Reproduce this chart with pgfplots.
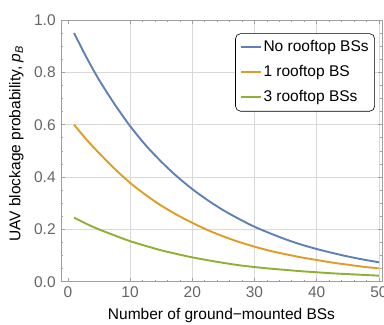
\documentclass[border=0pt]{standalone}
\usepackage{fontspec}
\setmainfont{Liberation Sans}
\usepackage{pgfplots}
\pgfplotsset{compat=1.18}
\definecolor{mblue}{rgb}{0.368417,0.506779,0.709798}
\definecolor{morange}{rgb}{0.880722,0.611041,0.142051}
\definecolor{mgreen}{rgb}{0.560181,0.691569,0.194885}
\begin{document}
\fontsize{15.5bp}{18bp}\selectfont
\begin{tikzpicture}
\begin{axis}[
  name=ax,
  scale only axis, width=321bp, height=261.7bp,
  xmin=-1.1, xmax=50.5, ymin=0, ymax=1,
  xtick={10,20,30,40,50}, extra x ticks={0},
  extra x tick style={grid=none},
  ytick={0,0.2,0.4,0.6,0.8,1.0},
  minor x tick num=4, minor y tick num=3,
  tick align=inside,
  major tick length=4bp, minor tick length=2.2bp,
  grid=major,
  major grid style={gray!30, line width=0.6bp},
  axis line style={gray!75, line width=0.7bp},
  every tick/.style={gray!75, line width=0.6bp},
  ticklabel style={gray!80!black, font=\fontsize{15.5bp}{18bp}\selectfont},
  /pgf/number format/assume math mode=true,
  yticklabel style={/pgf/number format/.cd, fixed, fixed zerofill, precision=1},
  xlabel={Number of ground\char"2212 mounted BSs},
  ylabel={UAV blockage probability, \textit{p}\textsubscript{\textit{B}}},
  ylabel style={xshift=7bp},
  label style={font=\fontsize{15.5bp}{18bp}\selectfont},
  legend style={at={(rel axis cs:0.978,0.949)}, anchor=north east,
    draw=black, rounded corners=5bp, fill=white, line width=0.6bp,
    font=\fontsize{15.5bp}{18bp}\selectfont,
    inner xsep=4bp, inner ysep=5bp, row sep=7.5bp},
  legend cell align=left,
  legend image code/.code={\draw[#1, line width=2bp] (0bp,0bp) -- (20bp,0bp);},
]
\addplot[mblue, line width=1.9bp, smooth] coordinates {
(1,0.950) (3,0.857) (5,0.772) (7.5,0.679) (10,0.595) (12.5,0.522) (15,0.459)
(17.5,0.403) (20,0.354) (22.5,0.311) (25,0.273) (27.5,0.240) (30,0.210)
(32.5,0.185) (35,0.162) (37.5,0.142) (40,0.125) (42.5,0.110) (45,0.0964)
(47.5,0.0846) (50,0.0743)};
\addlegendentry{No rooftop BSs}
\addplot[morange, line width=1.9bp, smooth] coordinates {
(1,0.600) (3,0.543) (5,0.492) (7.5,0.432) (10,0.378) (12.5,0.332) (15,0.291)
(17.5,0.256) (20,0.225) (22.5,0.197) (25,0.173) (27.5,0.152) (30,0.134)
(32.5,0.118) (35,0.105) (37.5,0.093) (40,0.083) (42.5,0.073) (45,0.065)
(47.5,0.057) (50,0.051)};
\addlegendentry{1 rooftop BS}
\addplot[mgreen, line width=1.9bp, smooth] coordinates {
(1,0.245) (3,0.221) (5,0.200) (7.5,0.177) (10,0.155) (12.5,0.137) (15,0.120)
(17.5,0.106) (20,0.093) (22.5,0.082) (25,0.072) (27.5,0.063) (30,0.056)
(32.5,0.050) (35,0.045) (37.5,0.040) (40,0.036) (42.5,0.032) (45,0.029)
(47.5,0.026) (50,0.023)};
\addlegendentry{3 rooftop BSs}
\end{axis}
\pgfresetboundingbox
\path (ax.south west) ++(-61bp,-43.3bp) coordinate (bl);
\path (ax.north east) ++(2bp,20bp) coordinate (tr);
\useasboundingbox (bl) rectangle (tr);
\end{tikzpicture}
\end{document}
